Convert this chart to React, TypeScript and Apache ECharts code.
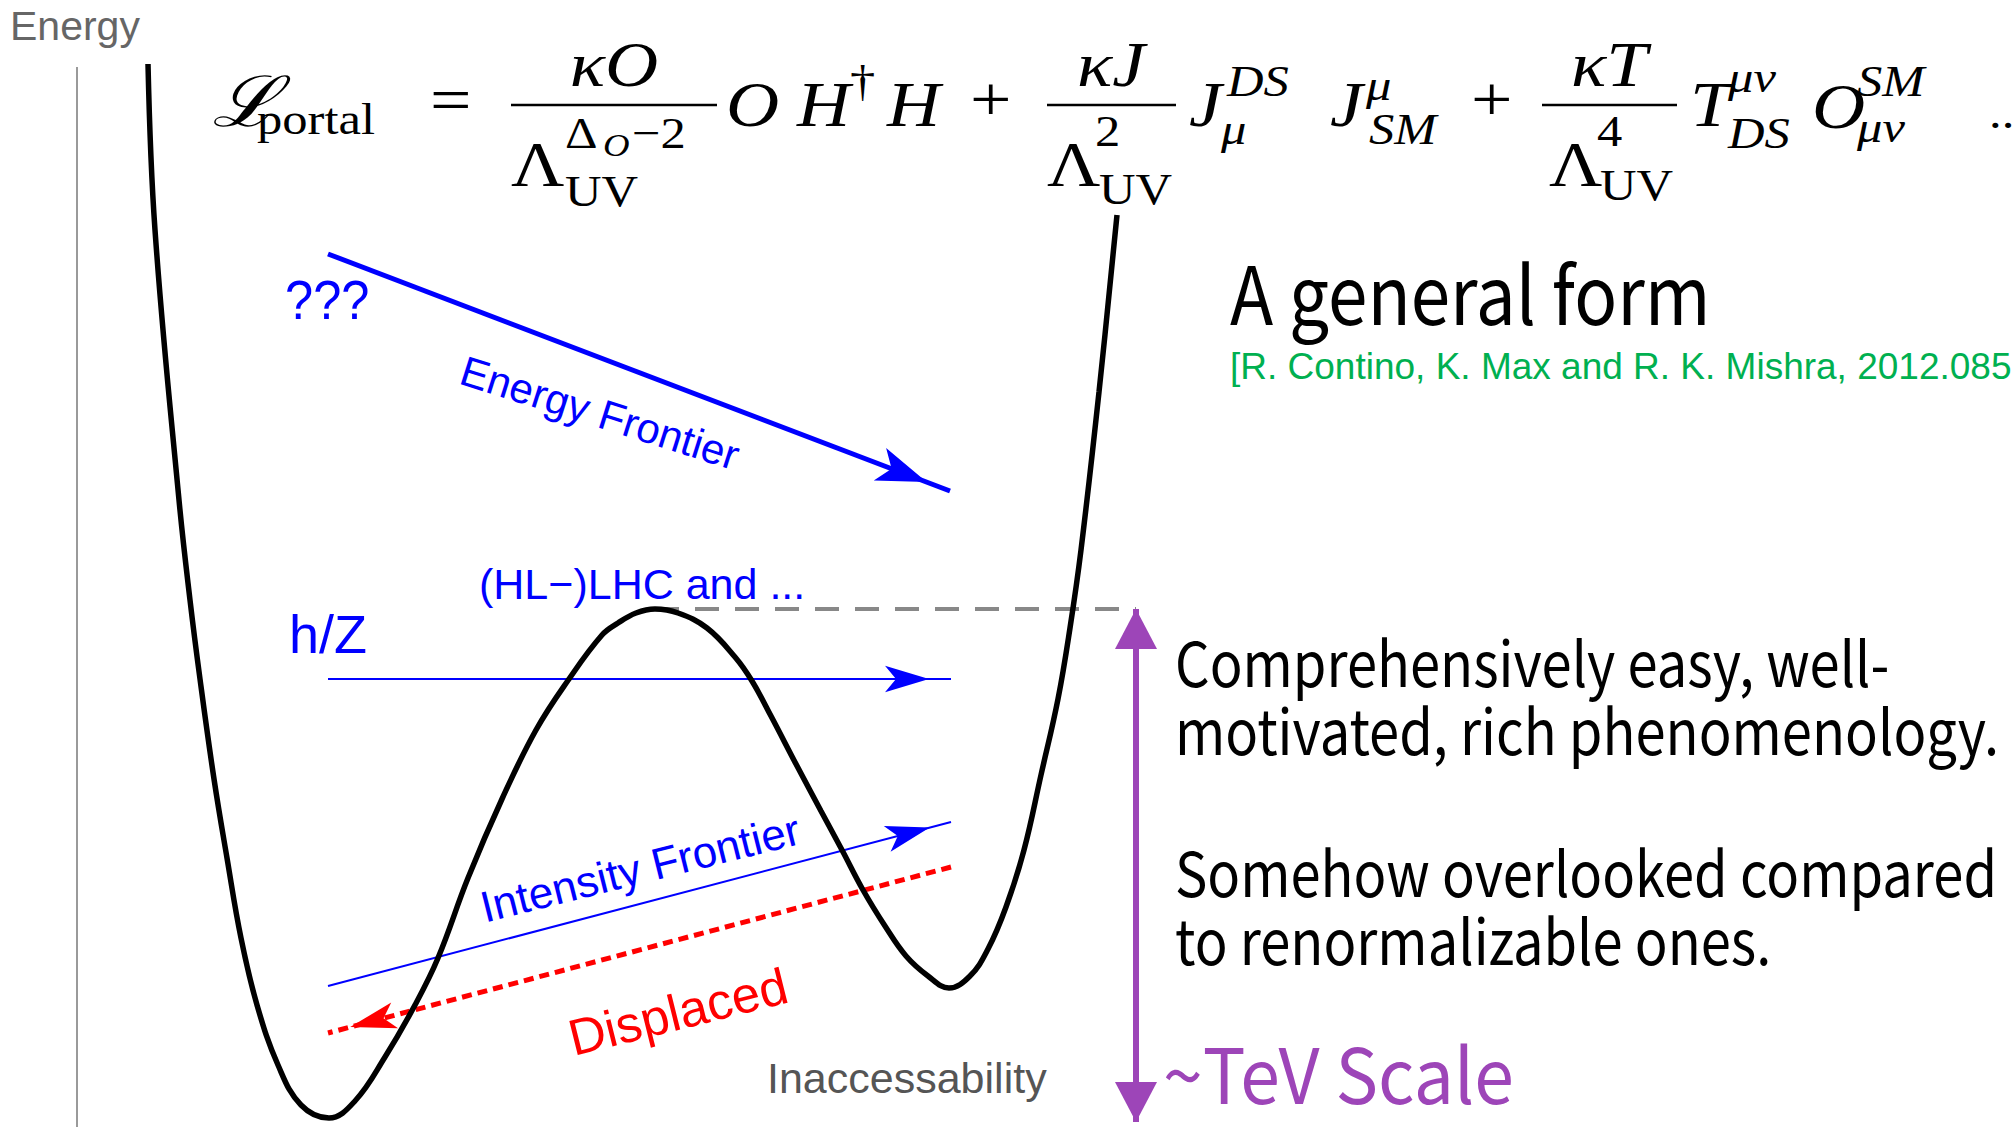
import React, { useEffect, useRef } from "react";
import * as echarts from "echarts";

const W = 2015;
const H = 1127;

// Potential curve (diagram units = reference pixels, y downward)
const potentialCurve: number[][] = [
  [148, 64], [155, 230], [179, 500], [190, 600], [200, 679], [214, 779], [227, 858],
  [241, 938], [257, 1005], [278, 1065], [301, 1105], [329, 1118], [355, 1101],
  [385, 1057], [415, 1005], [438, 958], [468, 878], [502, 799], [536, 730], [569, 679],
  [602, 635], [618, 623], [636, 613], [655, 609], [678, 613], [707, 628], [735, 657],
  [752, 681], [771, 716], [796, 764], [821, 811], [842, 850], [863, 890], [885, 926],
  [906, 956], [928, 976], [949, 988], [970, 976], [988, 949], [1006, 907], [1024, 850],
  [1041, 775], [1058, 699], [1070, 628], [1081, 550], [1099, 392], [1117, 215],
];

const energyAxis = [[77, 67], [77, 1127]];
const energyFrontierArrow = [[328, 254], [950, 491]];
const hzArrow = [[328, 679], [951, 679]];
const intensityArrow = [[328, 986], [951, 822]];
const displacedArrow = [[951, 867], [328, 1033]];
const barrierLevel = [[655, 609], [1136, 609]];
const tevArrow = [[1136, 609], [1136, 1122]];

const rightLines = [
  "Comprehensively easy, well-",
  "motivated, rich phenomenology.",
  "Somehow overlooked compared",
  "to renormalizable ones.",
];
const rightBaselines = [686, 754, 896, 964];

const SERIF = "'Liberation Serif', 'DejaVu Serif', serif";
const SANS = "'Liberation Sans', Arial, sans-serif";
const CJK = "'Noto Sans CJK SC', 'Noto Sans', sans-serif";

const BLUE = "#0000ff";
const RED = "#ff0000";
const PURPLE = "#9d45b8";
const GREEN = "#00b050";

// Equation layout: text, left (or center), baseline, size, flags (1 italic, 2 centered)
const EQ: [string, number, number, number, number][] = [
  ["ℒ", 212, 126, 70, 1],
  ["portal", 257, 134, 44, 0],
  ["=", 430, 121, 64, 0],
  ["κO", 614, 86, 64, 3],
  ["Λ", 511, 186, 64, 0],
  ["Δ", 565, 148, 44, 0],
  ["O", 603, 156, 32, 1],
  ["−2", 632, 148, 44, 0],
  ["UV", 565, 206, 44, 0],
  ["O", 726, 126, 64, 1],
  ["H", 797, 126, 64, 1],
  ["†", 850, 96, 44, 0],
  ["H", 887, 126, 64, 1],
  ["+", 970, 121, 64, 0],
  ["κJ", 1111, 86, 64, 3],
  ["Λ", 1047, 186, 64, 0],
  ["2", 1095, 146, 44, 0],
  ["UV", 1099, 204, 44, 0],
  ["J", 1189, 126, 64, 1],
  ["DS", 1227, 96, 44, 1],
  ["μ", 1221, 144, 44, 1],
  ["J", 1330, 126, 64, 1],
  ["μ", 1366, 100, 44, 1],
  ["SM", 1369, 144, 44, 1],
  ["+", 1471, 121, 64, 0],
  ["κT", 1609, 86, 64, 3],
  ["Λ", 1549, 186, 64, 0],
  ["4", 1597, 146, 44, 0],
  ["UV", 1600, 200, 44, 0],
  ["T", 1690, 126, 64, 1],
  ["μν", 1728, 92, 44, 1],
  ["DS", 1728, 148, 44, 1],
  ["O", 1812, 128, 64, 1],
  ["SM", 1857, 96, 44, 1],
  ["μν", 1857, 142, 44, 1],
  ["..", 1989, 128, 44, 0],
];
const EQ_BARS = [[511, 717], [1047, 1176], [1542, 1677]];
const EQ_BAR_Y = 105;

function txt(
  text: string, x: number, y: number, size: number, family: string, fill: string,
  extra: { italic?: boolean; align?: string; rotation?: number; scaleX?: number } = {}
) {
  return {
    type: "text",
    x,
    y,
    rotation: extra.rotation || 0,
    scaleX: extra.scaleX || 1,
    silent: true,
    z: 100,
    style: {
      text,
      fontSize: size,
      fontFamily: family,
      fontStyle: extra.italic ? "italic" : "normal",
      fill,
      align: extra.align || "left",
      verticalAlign: "middle",
    },
  };
}

function arrowItem(
  pts: number[][], color: string, width: number, type: any,
  startSym: string, endSym: string, size: number[]
) {
  const ls = { color, width, type };
  return [
    { coord: pts[0], symbol: startSym, symbolSize: size, symbolOffset: [0, "50%"], lineStyle: ls, itemStyle: { color } },
    { coord: pts[1], symbol: endSym, symbolSize: size, symbolOffset: [0, "50%"], lineStyle: ls, itemStyle: { color } },
  ];
}

const deg = (d: number) => (d * Math.PI) / 180;

export default function App() {
  const ref = useRef<HTMLDivElement>(null);
  useEffect(() => {
    document.body.style.margin = "0";
    if (!ref.current) return;
    const chart = echarts.init(ref.current, null, { renderer: "svg" });

    const elements: any[] = [];
    // Equation
    EQ.forEach(([t, x, b, s, f]) => {
      elements.push(
        txt(t, x, b - 0.34 * s, s, SERIF, "#000", {
          italic: (f & 1) === 1,
          align: (f & 2) === 2 ? "center" : "left",
          scaleX: 1.15,
        })
      );
    });
    EQ_BARS.forEach(([x1, x2]) => {
      elements.push({
        type: "line",
        silent: true,
        z: 100,
        shape: { x1, y1: EQ_BAR_Y, x2, y2: EQ_BAR_Y },
        style: { stroke: "#000", lineWidth: 2.5 },
      });
    });

    // Labels
    elements.push(txt("Energy", 10, 40 - 0.35 * 41, 41, SANS, "#666"));
    elements.push(txt("???", 285, 319 - 0.35 * 55, 55, SANS, BLUE, { scaleX: 0.92 }));
    elements.push(txt("Energy Frontier", 600, 413, 42, SANS, BLUE, { align: "center", rotation: deg(-17.5) }));
    elements.push(txt("(HL\u2212)LHC and ...", 479, 599 - 0.35 * 43, 43, SANS, BLUE));
    elements.push(txt("h/Z", 289, 653 - 0.35 * 54, 54, SANS, BLUE));
    elements.push(txt("Intensity Frontier", 640, 868, 44, SANS, BLUE, { align: "center", rotation: deg(14) }));
    elements.push(txt("Displaced", 678, 1012, 51, SANS, RED, { align: "center", rotation: deg(14) }));
    elements.push(txt("Inaccessability", 767, 1093 - 0.35 * 43, 43, SANS, "#555"));

    elements.push(txt("A general form", 1230, 324 - 0.42 * 80, 80, CJK, "#000", { scaleX: 0.888 }));
    elements.push(txt("[R. Contino, K. Max and R. K. Mishra, 2012.085", 1230, 379 - 0.35 * 37, 37, SANS, GREEN));
    rightLines.forEach((line, i) => {
      elements.push(txt(line, 1175, rightBaselines[i] - 0.42 * 62, 62, CJK, "#000", { scaleX: 0.876 }));
    });
    elements.push(txt("~TeV Scale", 1163, 1102 - 0.42 * 76, 76, CJK, PURPLE, { scaleX: 0.94 }));

    chart.setOption({
      animation: false,
      backgroundColor: "#ffffff",
      grid: { left: 0, right: 0, top: 0, bottom: 0, containLabel: false },
      xAxis: { type: "value", min: 0, max: W, show: false },
      yAxis: { type: "value", min: 0, max: H, inverse: true, show: false },
      tooltip: { show: false },
      series: [
        {
          type: "line",
          name: "axis",
          data: energyAxis,
          symbol: "none",
          silent: true,
          z: 1,
          lineStyle: { color: "#9a9a9a", width: 2 },
          markLine: {
            silent: true,
            animation: false,
            label: { show: false },
            emphasis: { disabled: true },
            data: [
              arrowItem(barrierLevel, "#888888", 4, [24, 16], "none", "none", [1, 1]),
              arrowItem(energyFrontierArrow, BLUE, 5, "solid", "none", "arrow", [26, 50]),
              arrowItem(hzArrow, BLUE, 2, "solid", "none", "arrow", [20, 44]),
              arrowItem(intensityArrow, BLUE, 2, "solid", "none", "arrow", [20, 44]),
              arrowItem(displacedArrow, RED, 5, [10, 6], "none", "arrow", [20, 46]),
              arrowItem(tevArrow, PURPLE, 6, "solid", "triangle", "triangle", [42, 40]),
            ],
          },
        },
        {
          type: "line",
          name: "potential",
          data: potentialCurve,
          smooth: 0.4,
          symbol: "none",
          silent: true,
          z: 5,
          lineStyle: { color: "#000000", width: 5.5 },
        },
      ],
      graphic: { elements },
    });
    return () => chart.dispose();
  }, []);
  return (
    <div
      ref={ref}
      style={{ position: "fixed", left: 0, top: 0, width: W, height: H, background: "#fff" }}
    />
  );
}
